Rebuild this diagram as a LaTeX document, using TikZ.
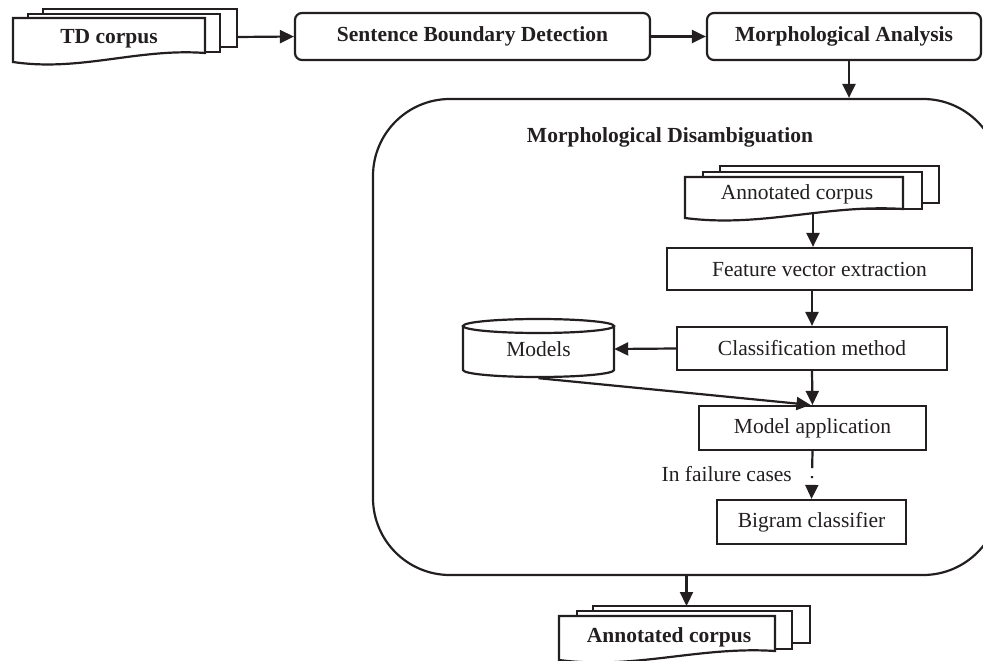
\documentclass[tikz,border=0pt]{standalone}
\usepackage{fontspec}
\setmainfont{Liberation Serif}
\usetikzlibrary{arrows.meta,calc}
\definecolor{ink}{RGB}{35,31,32}
\newcommand{\frontdoc}[4]{%
  \draw[shapeline, fill=white] (#1,#4) -- (#1,#2) -- (#3,#2) -- (#3,{#4-9})
    .. controls ({#1+0.65*(#3-#1)},{#4-14}) and ({#1+0.35*(#3-#1)},{#4+10}) .. (#1,#4) -- cycle;
}
\newcommand{\backdoc}[4]{%
  \draw[shapeline, fill=white] (#1,#2) rectangle (#3,#4);
}
\begin{document}
\begin{tikzpicture}[x=1pt,y=-1pt,
  shapeline/.style={draw=ink, line width=2.2pt},
  lab/.style={font=\fontsize{21.5}{24}\selectfont, text=ink, inner sep=0pt},
  blab/.style={font=\fontsize{21.5}{24}\selectfont\bfseries, text=ink, inner sep=0pt},
  box/.style={shapeline, fill=white},
  rbox/.style={box, rounded corners=7pt},
  arr/.style={draw=ink, line width=2.2pt, -{Triangle[length=14pt,width=13pt]}}
]
\useasboundingbox (0,0) rectangle (983,661);
\clip (0,0) rectangle (983,661);

% outer disambiguation box
\node[shapeline, rounded corners=77pt, minimum width=627pt, minimum height=476pt, inner sep=0pt] (md) at (686.5,337) {};
\node[blab] (mdlabel) at (670,137) {Morphological Disambiguation};

% TD corpus
\backdoc{43}{9}{237}{47}
\backdoc{28}{14}{220}{52}
\frontdoc{13}{18}{205}{62}
\node[blab] (td) at (109,39) {TD corpus};
\coordinate (tdout) at (237,37);

% top row boxes
\node[rbox, blab, minimum width=355pt, minimum height=47pt] (sbd) at (472.5,36.5) {Sentence Boundary Detection};
\node[rbox, blab, minimum width=274pt, minimum height=47pt] (ma) at (844,36.5) {Morphological Analysis};

% inner annotated corpus
\backdoc{720}{166}{939}{203}
\backdoc{703}{172}{922}{209}
\frontdoc{685}{177}{903}{218}
\node[lab] (ac) at (797,194) {Annotated corpus};
\coordinate (acout) at (813,213);

% inner boxes
\node[box, lab, minimum width=305pt, minimum height=42pt] (fve) at (819.5,269) {Feature vector extraction};
\node[box, lab, minimum width=270pt, minimum height=43pt] (cm) at (812,348.5) {Classification method};
\node[box, lab, minimum width=227pt, minimum height=44pt] (mapp) at (812.5,428) {Model application};
\node[box, lab, minimum width=189pt, minimum height=44pt] (bc) at (811.5,522) {Bigram classifier};

% models cylinder
\draw[shapeline, fill=white] (463,326) -- (463,370) arc[start angle=180, end angle=360, x radius=75.5pt, y radius=7pt] -- (614,326);
\draw[shapeline, fill=white] (538.5,326) ellipse [x radius=75.5pt, y radius=7pt];
\node[lab, minimum width=151pt, minimum height=58pt] (models) at (538.5,349) {Models};

\node[lab, anchor=east] (fail) at (792,474) {In failure cases};

% bottom annotated corpus
\backdoc{593}{606}{810}{643}
\backdoc{577}{611}{792}{649}
\frontdoc{559}{616}{775}{660}
\node[blab] (bac) at (669,637) {Annotated corpus};
\coordinate (bacin) at (686.5,606);

% connectors
\draw[arr] (tdout) -- (sbd.west);
\draw[arr] (sbd.east) -- (ma.west);
\draw[arr] ([xshift=5pt]ma.south) -- ([xshift=5pt]ma.south |- md.north);
\draw[arr] (acout) -- (acout |- fve.north);
\draw[arr] (cm.north |- fve.south) -- (cm.north);
\draw[arr] (cm.west) -- (models.east);
\draw[arr] (cm.south) -- (mapp.north);
\draw[arr] (models.south) -- ([xshift=-2pt]mapp.north);
\draw[arr, dash pattern=on 17pt off 8pt on 2pt off 40pt] (mapp.south) -- (bc.north);
\draw[arr] (md.south) -- (bacin);
\end{tikzpicture}
\end{document}
